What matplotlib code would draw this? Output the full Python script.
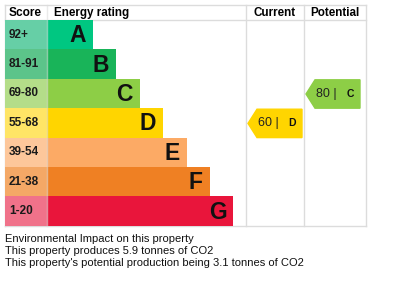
import matplotlib
matplotlib.use("Agg")
import matplotlib.pyplot as plt
from matplotlib.patches import Polygon

plt.rcParams["font.family"] = ["Liberation Sans", "DejaVu Sans"]

# data
bands = ["A", "B", "C", "D", "E", "F", "G"]
score_labels = ["92+", "81-91", "69-80", "55-68", "39-54", "21-38", "1-20"]
band_min = [92, 81, 69, 55, 39, 21, 1]
bar_colors = ["#00c781", "#19b459", "#8dce46", "#ffd500", "#fcaa65", "#ef8023", "#e9153b"]
score_colors = ["#66cfa6", "#5cc48a", "#b4dd89", "#ffe566", "#fdc79b", "#f4a866", "#f0728a"]
current_score = 60
potential_score = 80
notes = [
    "Environmental Impact on this property",
    "This property produces 5.9 tonnes of CO2",
    "This property's potential production being 3.1 tonnes of CO2",
]

# layout (pixel units)
left, score_right, cur_left, pot_left, right = 5, 47, 246, 304, 366
top, head_bottom, row_h = 5, 20, 29.4
bar_base, bar_step = 46, 23.4
grid = "#dcdcdc"


def band_index(score):
    for i, m in enumerate(band_min):
        if score >= m:
            return i
    return len(band_min) - 1


fig = plt.figure(figsize=(4, 2.84), dpi=100)
ax = fig.add_axes([0, 0, 1, 1])
ax.set_xlim(0, 400)
ax.set_ylim(284, 0)
ax.axis("off")

bottom = head_bottom + row_h * len(bands)
row_tops = [head_bottom + row_h * i for i in range(len(bands))]
widths = [bar_base + bar_step * i for i in range(len(bands))]

ax.barh(row_tops, [score_right - left] * len(bands), height=row_h, left=left,
        align="edge", color=score_colors, zorder=1)
ax.barh(row_tops, widths, height=row_h, left=score_right, align="edge",
        color=bar_colors, zorder=1)

for i, (lab, band) in enumerate(zip(score_labels, bands)):
    yc = row_tops[i] + row_h / 2
    ax.text(9, yc, lab, fontsize=8.5, fontweight="bold", va="center", ha="left",
            color="#1a1a1a", zorder=3)
    ax.text(score_right + widths[i] - 7, yc + 1, band, fontsize=16.5,
            fontweight="bold", va="center", ha="right", color="#111111", zorder=3)

# grid
for y in [top, head_bottom, bottom]:
    ax.plot([left, right], [y, y], color=grid, lw=1, zorder=0)
for x in [left, cur_left, pot_left, right]:
    ax.plot([x, x], [top, bottom], color=grid, lw=1, zorder=0)
ax.plot([score_right, score_right], [top, bottom], color=grid, lw=1, zorder=2, alpha=0.6)

# headers
hy = (top + head_bottom) / 2 + 0.5
ax.text(9, hy, "Score", fontsize=8.6, fontweight="bold", va="center", ha="left")
ax.text(score_right + 7, hy, "Energy rating", fontsize=8.4, fontweight="bold", va="center", ha="left")
ax.text((cur_left + pot_left) / 2, hy, "Current", fontsize=8.4, fontweight="bold", va="center", ha="center")
ax.text((pot_left + right) / 2, hy, "Potential", fontsize=8.4, fontweight="bold", va="center", ha="center")


def arrow(col_left, col_right, score):
    i = band_index(score)
    y0 = row_tops[i] + 1
    y1 = row_tops[i] + row_h
    tip = col_left + 2
    body = tip + 9
    end = col_right - 2
    pts = [(tip, (y0 + y1) / 2), (body, y0), (end, y0), (end, y1), (body, y1)]
    ax.add_patch(Polygon(pts, closed=True, color=bar_colors[i], zorder=2))
    yc = (y0 + y1) / 2
    ax.text(body + 1, yc, f"{score} |", fontsize=9, va="center", ha="left",
            color="#222222", zorder=3)
    ax.text(end - 10, yc, bands[i], fontsize=7.5, fontweight="bold", va="center",
            ha="center", color="#111111", zorder=3)


arrow(cur_left, pot_left, current_score)
arrow(pot_left, right - 4, potential_score)

for k, line in enumerate(notes):
    ax.text(left, 239 + 12 * k, line, fontsize=8, va="center", ha="left", color="#111111")

fig.savefig("out.png", dpi=100, facecolor="white")
